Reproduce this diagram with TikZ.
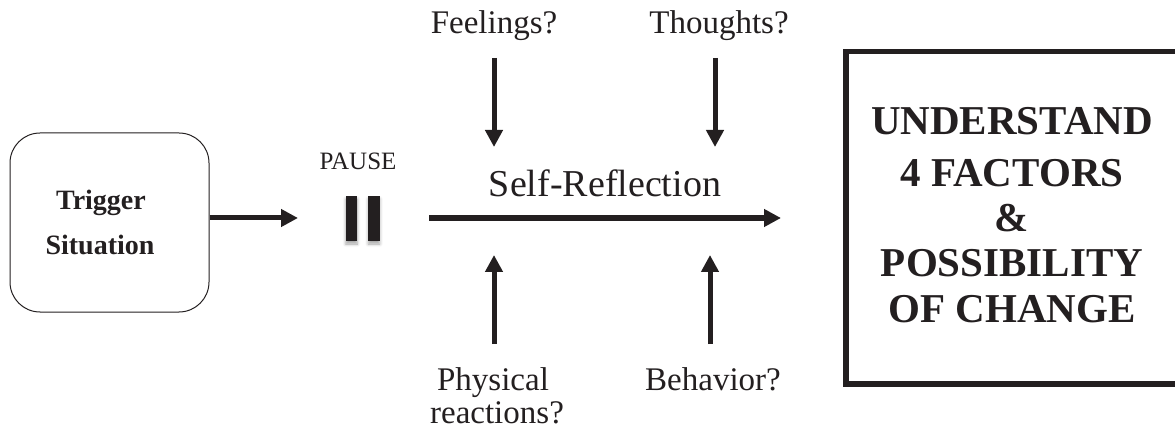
\documentclass[tikz,border=0pt]{standalone}
\usepackage{fontspec}
\setmainfont{Liberation Serif}
\usetikzlibrary{arrows.meta,shadows.blur}
\definecolor{ink}{HTML}{231F20}
\tikzset{
  lbl/.style={font=\fontsize{33}{36}\selectfont, text=ink, inner sep=0pt, anchor=base},
  trigtxt/.style={font=\bfseries\fontsize{28}{32}\selectfont, text=ink, inner sep=0pt, anchor=base},
  bigarrow/.style={draw=ink, line width=5pt, -{Triangle[length=17pt,width=17pt]}},
  pausebar/.style={fill=ink, draw=none, minimum width=11.5pt, minimum height=45pt, inner sep=0pt,
    blur shadow={shadow xshift=0pt, shadow yshift=-3pt, shadow blur radius=3pt, shadow opacity=35}},
  factors/.style={font=\bfseries\fontsize{41}{46}\selectfont, text=ink, inner sep=0pt, anchor=base},
}
\begin{document}
\begin{tikzpicture}[x=1pt,y=-1pt]
\useasboundingbox (0,0) rectangle (1175,438);
\clip (0,0) rectangle (1175,438);

% trigger box
\node[draw=ink, line width=1pt, rounded corners=30pt, minimum width=199pt, minimum height=179pt, inner sep=0pt]
  (trig) at (109.5,222.5) {};
\node[trigtxt] (trigA) at (101,210) {Trigger};
\node[trigtxt] (trigB) at (100,255) {Situation};

% pause symbol
\node[font=\fontsize{25}{30}\selectfont, text=ink, inner sep=0pt, anchor=base] (pausetxt) at (358,170) {PAUSE};
\node[pausebar] (barL) at (351.5,218.5) {};
\node[pausebar] (barR) at (374,218.5) {};
\coordinate (pin) at (298,218);
\draw[bigarrow] (trig.east |- pin) -- (pin);

% main flow
\coordinate (flowA) at (429,218);
\coordinate (flowB) at (781,218);
\draw[bigarrow, line width=5.5pt] (flowA) -- (flowB);
\node[lbl, font=\fontsize{38}{42}\selectfont] (self) at (605,197) {Self-Reflection};

% four factors
\node[lbl] (feel) at (494,34) {Feelings?};
\node[lbl] (thought) at (719,34) {Thoughts?};
\node[lbl] (phys) at (493,390) {Physical};
\node[lbl] (react) at (497,423) {reactions?};
\node[lbl] (behav) at (713,390) {Behavior?};

\coordinate (feelT) at (494,58);  \coordinate (feelB) at (494,147);
\coordinate (thT) at (715,58);    \coordinate (thB) at (715,147);
\coordinate (phT) at (494,255);   \coordinate (phB) at (494,344);
\coordinate (beT) at (710,255);   \coordinate (beB) at (710,344);
\draw[bigarrow] (feelT) -- (feelB);
\draw[bigarrow] (thT) -- (thB);
\draw[bigarrow] (phB) -- (phT);
\draw[bigarrow] (beB) -- (beT);

% outcome box
\draw[ink, line width=5.5pt] (1190,51.5) -| (846,384) -- (1190,384);
\node[factors] (f1) at (1012,135) {UNDERSTAND};
\node[factors] (f2) at (1012,187) {4 FACTORS};
\node[factors] (f3) at (1012,232) {\&};
\node[factors] (f4) at (1012,277) {POSSIBILITY};
\node[factors] (f5) at (1012,323) {OF CHANGE};
\end{tikzpicture}
\end{document}
